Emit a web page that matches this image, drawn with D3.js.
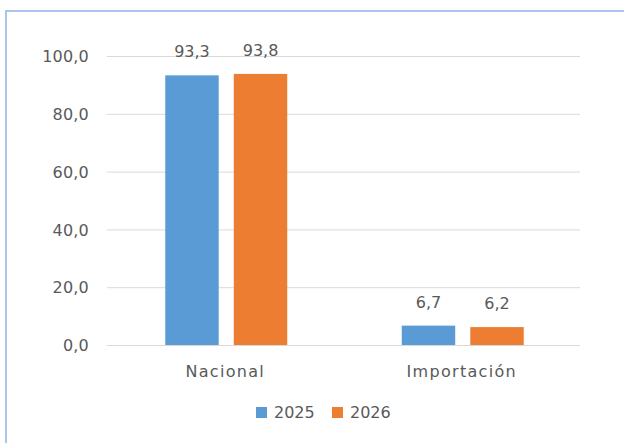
<!DOCTYPE html>
<html>
<head>
<meta charset="utf-8">
<script src="https://cdn.jsdelivr.net/npm/d3@7"></script>
<style>
  html, body { margin: 0; padding: 0; background: #fff; }
  svg { display: block; }
  text { font-family: "DejaVu Sans", sans-serif; fill: #595959; }
</style>
</head>
<body>
<svg id="chart" width="624" height="443"></svg>
<script>
const categories = ["Nacional", "Importación"];
const seriesNames = ["2025", "2026"];
const values2025 = [93.3, 6.7];
const values2026 = [93.8, 6.2];
const yTicks = [0, 20, 40, 60, 80, 100];
const colors = ["#5B9BD5", "#ED7D31"];

const seriesValues = [values2025, values2026];
const fmt = v => d3.format(".1f")(v).replace(".", ",");

const svg = d3.select("#chart");
const W = 624, H = 443;

// outer frame
svg.append("rect")
  .attr("x", 6).attr("y", 11)
  .attr("width", W + 20).attr("height", H + 20)
  .attr("fill", "#fff")
  .attr("stroke", "#a9c4ee")
  .attr("stroke-width", 2);

const plot = { left: 107, right: 580, top: 56, bottom: 345 };

const x0 = d3.scaleBand().domain(categories).range([plot.left, plot.right]).padding(0);
const x1 = d3.scaleBand().domain(seriesNames).range([0, 122]).paddingInner(0.22).paddingOuter(0);
const y = d3.scaleLinear().domain([0, 100]).range([plot.bottom, plot.top]);

// gridlines
svg.append("g").selectAll("line").data(yTicks).join("line")
  .attr("x1", plot.left).attr("x2", plot.right)
  .attr("y1", d => y(d) + 0.5).attr("y2", d => y(d) + 0.5)
  .attr("stroke", "#d9d9d9").attr("stroke-width", 1);

// y tick labels
const yAxis = d3.axisLeft(y).tickValues(yTicks).tickFormat(fmt).tickSize(0).tickPadding(0);
const gy = svg.append("g").attr("transform", `translate(${plot.left - 18},0)`).call(yAxis);
gy.select(".domain").remove();
gy.selectAll("text")
  .attr("font-size", 16)
  .attr("letter-spacing", 0.2)
  .attr("fill", "#595959")
  .attr("font-family", "DejaVu Sans, sans-serif")
  .attr("dy", "0.35em");

// bars
const groups = svg.append("g").selectAll("g").data(categories).join("g")
  .attr("transform", d => `translate(${x0(d) + x0.bandwidth() / 2 - 60},0)`);

groups.selectAll("rect")
  .data((c, i) => seriesNames.map((s, j) => ({ s, j, v: seriesValues[j][i] })))
  .join("rect")
  .attr("x", d => x1(d.s))
  .attr("width", x1.bandwidth())
  .attr("y", d => y(d.v))
  .attr("height", d => y(0) - y(d.v))
  .attr("fill", d => colors[d.j]);

groups.selectAll("text.lbl")
  .data((c, i) => seriesNames.map((s, j) => ({ s, j, v: seriesValues[j][i] })))
  .join("text")
  .attr("class", "lbl")
  .attr("x", d => x1(d.s) + x1.bandwidth() / 2)
  .attr("y", d => y(d.v) - 18)
  .attr("text-anchor", "middle")
  .attr("font-size", 16)
  .text(d => fmt(d.v));

// x axis category labels
const xAxis = d3.axisBottom(x0).tickSize(0).tickPadding(0);
const gx = svg.append("g").attr("transform", `translate(0,${plot.bottom + 32})`).call(xAxis);
gx.select(".domain").remove();
gx.selectAll("text")
  .attr("font-size", 16)
  .attr("letter-spacing", 1.3)
  .attr("fill", "#595959")
  .attr("font-family", "DejaVu Sans, sans-serif")
  .attr("dy", 0);

// legend
const legendItems = [
  { name: seriesNames[0], color: colors[0], x: 256 },
  { name: seriesNames[1], color: colors[1], x: 332 }
];
const lg = svg.append("g").selectAll("g").data(legendItems).join("g")
  .attr("transform", d => `translate(${d.x},407)`);
lg.append("rect").attr("width", 11).attr("height", 11).attr("fill", d => d.color);
lg.append("text")
  .attr("x", 18).attr("y", 11)
  .attr("font-size", 16)
  .text(d => d.name);
</script>
</body>
</html>
